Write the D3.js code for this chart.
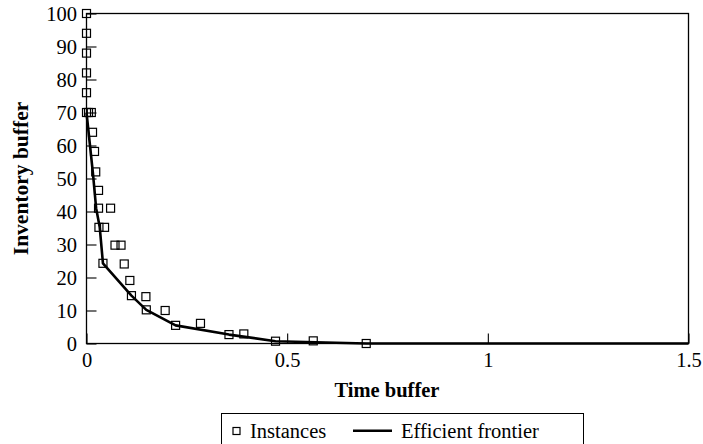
<!DOCTYPE html>
<html>
<head>
<meta charset="utf-8">
<script src="https://cdn.jsdelivr.net/npm/d3@7/dist/d3.min.js"></script>
<style>
  html, body { margin: 0; padding: 0; background: #fff; }
  svg { display: block; }
  svg text { font-family: "Liberation Serif", "Times New Roman", serif; fill: #000; }
  .tick text { font-size: 20.5px; }
</style>
</head>
<body>
<svg id="chart" width="703" height="444"></svg>
<script>
// Time buffer (x) and inventory buffer (y) of each instance
const instanceTime = [0, 0, 0, 0, 0, 0, 0.005, 0.012, 0.015, 0.02, 0.023, 0.03, 0.03, 0.06,
  0.031, 0.045, 0.071, 0.086, 0.041, 0.094, 0.108, 0.112, 0.148, 0.149, 0.196, 0.222,
  0.284, 0.355, 0.392, 0.471, 0.565, 0.697];
const instanceInventory = [100, 94, 88, 82, 76, 70, 70, 70, 64, 58.2, 52, 46.4, 41, 41,
  35.2, 35.2, 29.8, 29.8, 24.3, 24.1, 19.1, 14.5, 14.2, 10.2, 10, 5.5,
  6.1, 2.7, 2.9, 0.7, 0.8, 0];

// Efficient frontier
const frontierTime = [0, 0.016, 0.024, 0.033, 0.041, 0.112, 0.149, 0.222, 0.355, 0.471, 0.697, 1.5];
const frontierInventory = [70, 51.6, 41, 35.2, 24.3, 14.5, 10.2, 5.5, 2.7, 0.7, 0, 0];

const xTicks = [0, 0.5, 1, 1.5];
const yTicks = [0, 10, 20, 30, 40, 50, 60, 70, 80, 90, 100];

const svg = d3.select("#chart");
const plotLeft = 86.5, plotRight = 688.5, plotTop = 13.5, plotBottom = 343.5;

const x = d3.scaleLinear().domain([0, 1.5]).range([plotLeft, plotRight]);
const y = d3.scaleLinear().domain([0, 100]).range([plotBottom, plotTop]);

// frame
svg.append("rect")
  .attr("x", plotLeft).attr("y", plotTop)
  .attr("width", plotRight - plotLeft).attr("height", plotBottom - plotTop)
  .attr("fill", "none").attr("stroke", "#000").attr("stroke-width", 1.3);

// axes with inward ticks
const xAxis = svg.append("g").attr("transform", `translate(0,${plotBottom})`)
  .call(d3.axisBottom(x).tickValues(xTicks).tickSize(-10).tickPadding(9)
    .tickFormat(d => String(d)));
const yAxis = svg.append("g").attr("transform", `translate(${plotLeft},0)`)
  .call(d3.axisLeft(y).tickValues(yTicks).tickSize(-10).tickPadding(9.5));

[xAxis, yAxis].forEach(g => {
  g.attr("font-family", null).attr("font-size", null);
  g.select(".domain").remove();
  g.selectAll(".tick line").attr("stroke", "#000").attr("stroke-width", 1.1);
  g.selectAll(".tick text").attr("fill", "#000");
});

// frontier line
const lineData = frontierTime.map((t, i) => [t, frontierInventory[i]]);
svg.append("path")
  .datum(lineData)
  .attr("fill", "none").attr("stroke", "#000").attr("stroke-width", 2.6)
  .attr("stroke-linejoin", "round")
  .attr("d", d3.line().x(d => x(d[0])).y(d => y(d[1])));

// instance markers
const pts = instanceTime.map((t, i) => [t, instanceInventory[i]]);
svg.append("g").selectAll("rect")
  .data(pts).enter().append("rect")
  .attr("x", d => x(d[0]) - 4).attr("y", d => y(d[1]) - 4)
  .attr("width", 8).attr("height", 8)
  .attr("fill", "none").attr("stroke", "#000").attr("stroke-width", 1.2);

// axis titles
svg.append("text")
  .attr("x", 387).attr("y", 396.5)
  .attr("text-anchor", "middle")
  .style("font-size", "20.5px").style("font-weight", "bold")
  .text("Time buffer");
svg.append("text")
  .attr("transform", `translate(28,${(plotTop + plotBottom) / 2}) rotate(-90)`)
  .attr("text-anchor", "middle")
  .style("font-size", "21.5px").style("font-weight", "bold")
  .text("Inventory buffer");

// legend
const lg = svg.append("g");
lg.append("rect")
  .attr("x", 221.5).attr("y", 413.5).attr("width", 362).attr("height", 32)
  .attr("fill", "#fff").attr("stroke", "#000").attr("stroke-width", 1);
lg.append("rect")
  .attr("x", 233).attr("y", 427.5).attr("width", 7).attr("height", 7)
  .attr("fill", "none").attr("stroke", "#000").attr("stroke-width", 1.2);
lg.append("text").attr("x", 250).attr("y", 437.5)
  .style("font-size", "20.5px").text("Instances");
lg.append("line")
  .attr("x1", 353).attr("x2", 392).attr("y1", 430.8).attr("y2", 430.8)
  .attr("stroke", "#000").attr("stroke-width", 2.4);
lg.append("text").attr("x", 401).attr("y", 437.5)
  .style("font-size", "20.5px").text("Efficient frontier");
</script>
</body>
</html>
